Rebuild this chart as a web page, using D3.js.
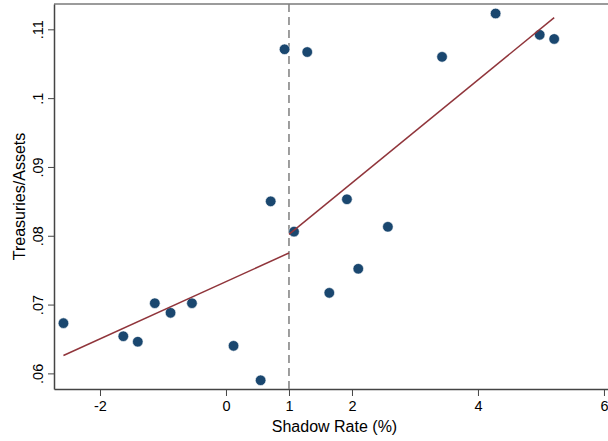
<!DOCTYPE html>
<html>
<head>
<meta charset="utf-8">
<script src="https://cdn.jsdelivr.net/npm/d3@7"></script>
<style>
  body { margin: 0; background: #fff; }
  text { font-family: Arial, "Liberation Sans", sans-serif; fill: #000; }
</style>
</head>
<body>
<svg width="608" height="441"></svg>
<script>
var svg = d3.select("svg");

// shadow rate (%) and treasuries/assets
var shadowRate = [-2.58, -1.63, -1.40, -1.13, -0.88, -0.54, 0.12, 0.55, 0.71, 0.93,
                  1.08, 1.29, 1.64, 1.92, 2.10, 2.57, 3.43, 4.28, 4.98, 5.21];
var treasAssets = [0.0673, 0.0654, 0.0646, 0.0702, 0.0688, 0.0702, 0.0640, 0.0590, 0.0850, 0.1071,
                   0.0806, 0.1067, 0.0717, 0.0853, 0.0752, 0.0813, 0.1060, 0.1123, 0.1092, 0.1086];

// fitted lines either side of the break
var fitLeftX = [-2.58, 1], fitLeftY = [0.0626, 0.0775];
var fitRightX = [1, 5.21], fitRightY = [0.0802, 0.1117];
var breakAt = 1;

var xTicks = [-2, 0, 1, 2, 4, 6];
var xTickLabels = ["-2", "0", "1", "2", "4", "6"];
var yTicks = [0.06, 0.07, 0.08, 0.09, 0.10, 0.11];
var yTickLabels = [".06", ".07", ".08", ".09", ".1", ".11"];

// plot area (don't use "top" - clashes with window.top)
var pLeft = 54, pRight = 609, pTop = 4, pBottom = 389;

var x = d3.scaleLinear().domain([-2.73, 6.08]).range([pLeft, pRight]);
var y = d3.scaleLinear().domain([0.05773, 0.11368]).range([pBottom, pTop]);

// frame top
svg.append("line")
    .attr("x1", pLeft).attr("x2", pRight)
    .attr("y1", pTop).attr("y2", pTop)
    .attr("stroke", "#7a7a7a").attr("stroke-width", 1.5);

// x axis
var xAxis = svg.append("g")
    .attr("transform", "translate(0," + pBottom + ")")
    .call(d3.axisBottom(x).tickValues(xTicks)
        .tickFormat(function(d, i) { return xTickLabels[i]; })
        .tickSize(7).tickPadding(5).tickSizeOuter(0));
xAxis.select(".domain").attr("stroke", "#444").attr("stroke-width", 1.5);
xAxis.selectAll(".tick line").attr("stroke", "#444");
xAxis.selectAll(".tick text").attr("font-size", 14.5).style("font-family", "Arial, 'Liberation Sans', sans-serif");

// y axis
var yAxis = svg.append("g")
    .attr("transform", "translate(" + pLeft + ",0)")
    .call(d3.axisLeft(y).tickValues(yTicks)
        .tickFormat(function(d, i) { return yTickLabels[i]; })
        .tickSize(6).tickSizeOuter(0));
yAxis.select(".domain").attr("stroke", "#444").attr("stroke-width", 1.5);
yAxis.selectAll(".tick line").attr("stroke", "#444");
yAxis.selectAll(".tick text")
    .attr("font-size", 14.5)
    .style("font-family", "Arial, 'Liberation Sans', sans-serif")
    .attr("x", 0).attr("dy", 0)
    .attr("text-anchor", "middle")
    .attr("transform", "translate(-11,0) rotate(-90)");

// dashed break line
svg.append("line")
    .attr("x1", x(breakAt)).attr("x2", x(breakAt))
    .attr("y1", pTop).attr("y2", pBottom)
    .attr("stroke", "#7f7f7f").attr("stroke-width", 1.5)
    .attr("stroke-dasharray", "8,5");

// points
svg.append("g").selectAll("circle")
    .data(d3.zip(shadowRate, treasAssets))
    .enter().append("circle")
        .attr("cx", function(d) { return x(d[0]); })
        .attr("cy", function(d) { return y(d[1]); })
        .attr("r", 5.3)
        .attr("fill", "#1a476f")
        .attr("stroke", "#fff").attr("stroke-width", 0.6);

// fit lines
var line = d3.line()
    .x(function(d) { return x(d[0]); })
    .y(function(d) { return y(d[1]); });

[[fitLeftX, fitLeftY], [fitRightX, fitRightY]].forEach(function(f) {
    svg.append("path")
        .datum(d3.zip(f[0], f[1]))
        .attr("d", line)
        .attr("fill", "none")
        .attr("stroke", "#90353b").attr("stroke-width", 1.5);
});

// axis titles
svg.append("text")
    .attr("x", (pLeft + pRight) / 2 + 3).attr("y", 432)
    .attr("text-anchor", "middle").attr("font-size", 16)
    .text("Shadow Rate (%)");

svg.append("text")
    .attr("transform", "translate(25," + ((pTop + pBottom) / 2) + ") rotate(-90)")
    .attr("text-anchor", "middle").attr("font-size", 16)
    .text("Treasuries/Assets");
</script>
</body>
</html>
